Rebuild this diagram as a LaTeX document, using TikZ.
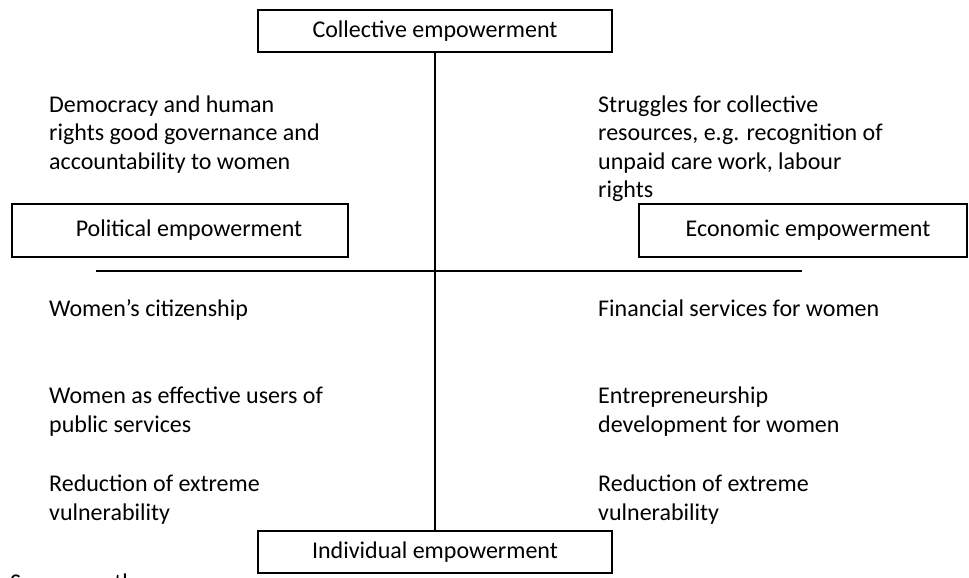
\documentclass[tikz,border=0pt]{standalone}
\usepackage{fontspec}
\setmainfont{Carlito}
\begin{document}
\begin{tikzpicture}[x=1pt,y=-1pt,
  every node/.style={font=\fontsize{24}{28.5}\selectfont, inner sep=0pt},
  box/.style={draw, line width=1.5pt, minimum height=42pt},
  txt/.style={anchor=base west, align=left},
  axis/.style={line width=1.5pt}]
\useasboundingbox (0,0) rectangle (969,578);
% boxes
\node[box, minimum width=354pt, minimum height=42pt] (coll) at (435,31) {Collective empowerment};
\node[box, minimum width=336pt, minimum height=53pt] (pol) at (180,230.5) {\hspace*{18pt}Political empowerment};
\node[box, minimum width=328pt, minimum height=53pt] (eco) at (803,230.5) {\hspace*{10pt}Economic empowerment};
\node[box, minimum width=354pt, minimum height=42pt] (ind) at (435,552) {Individual empowerment};
% axes
\coordinate (hl) at (96,271);
\coordinate (hr) at (802,271);
\draw[axis] (coll.south) -- (ind.north);
\draw[axis] (hl) -- (hr);
% left texts (anchored at the baseline of their last line)
\node[txt] (t1) at (49,169) {Democracy and human\\rights good governance and\\accountability to women};
\node[txt] (t2) at (49,316) {Women’s citizenship};
\node[txt] (t3) at (49,432) {Women as effective users of\\public services};
\node[txt] (t4) at (49,520) {Reduction of extreme\\vulnerability};
% right texts
\node[txt] (t5) at (598,197.5) {Struggles for collective\\resources, e.g. recognition of\\unpaid care work, labour\\rights};
\node[txt] (t6) at (598,316) {Financial services for women};
\node[txt] (t7) at (598,432) {Entrepreneurship\\development for women};
\node[txt] (t8) at (598,520) {Reduction of extreme\\vulnerability};
% source (cut off at page edge)
\node[txt] (src) at (10,590) {Source: author};
\end{tikzpicture}
\end{document}
